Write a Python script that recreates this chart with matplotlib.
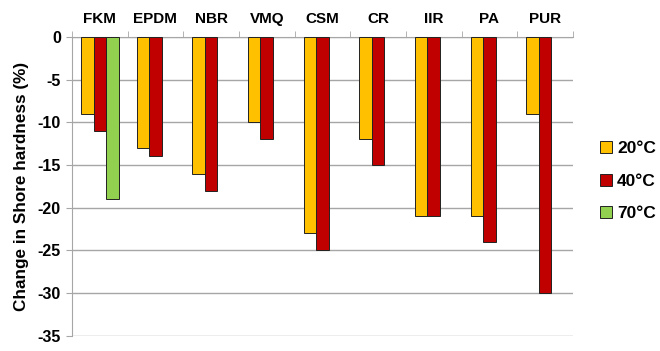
import numpy as np
import matplotlib.pyplot as plt
from matplotlib.ticker import MultipleLocator, FixedLocator

plt.rcParams["font.family"] = ["Liberation Sans", "DejaVu Sans"]
plt.rcParams["font.weight"] = "bold"
plt.rcParams["axes.unicode_minus"] = False

materials = ["FKM", "EPDM", "NBR", "VMQ", "CSM", "CR", "IIR", "PA", "PUR"]
t20 = [-9, -13, -16, -10, -23, -12, -21, -21, -9]
t40 = [-11, -14, -18, -12, -25, -15, -21, -24, -30]
t70 = [-19, np.nan, np.nan, np.nan, np.nan, np.nan, np.nan, np.nan, np.nan]

series = [("20°C", t20, "#FFC000"), ("40°C", t40, "#C00000"), ("70°C", t70, "#92D050")]

fig = plt.figure(figsize=(6.6, 3.51), dpi=100)
ax = fig.add_axes([0.109, 0.043, 0.759, 0.852])

x = np.arange(len(materials))
w = 0.225
for i, (label, vals, color) in enumerate(series):
    ax.bar(x + (i - 1) * w, vals, w, color=color, edgecolor="#222222", linewidth=0.7,
           label=label, zorder=3)

ax.set_xlim(-0.5, len(materials) - 0.5)
ax.set_ylim(-35, 0)
ax.yaxis.set_major_locator(MultipleLocator(5))
ax.grid(axis="y", color="#a6a6a6", linewidth=1.0, zorder=0)

ax.xaxis.tick_top()
ax.set_xticks(x)
ax.set_xticklabels(materials, fontsize=11, fontweight="bold")
ax.xaxis.set_minor_locator(FixedLocator(np.arange(-0.5, len(materials), 1.0)))
ax.tick_params(axis="x", which="major", length=0, pad=8)
ax.tick_params(axis="x", which="minor", length=4, color="#a6a6a6", direction="out")
ax.tick_params(axis="y", length=4, color="#a6a6a6", labelsize=11.5, pad=4)
for t in ax.get_yticklabels():
    t.set_fontweight("bold")

for side in ["right", "bottom"]:
    ax.spines[side].set_visible(False)
ax.spines["left"].set_color("#a6a6a6")
ax.spines["top"].set_color("#a6a6a6")

ax.set_ylabel("Change in Shore hardness (%)", fontsize=12.3, fontweight="bold", labelpad=6)

fig.legend(loc="center left", bbox_to_anchor=(0.885, 0.484), frameon=False,
           fontsize=12.5, handlelength=0.7, handleheight=0.7, handletextpad=0.3,
           labelspacing=1.0)

fig.savefig("out.png", dpi=100)
